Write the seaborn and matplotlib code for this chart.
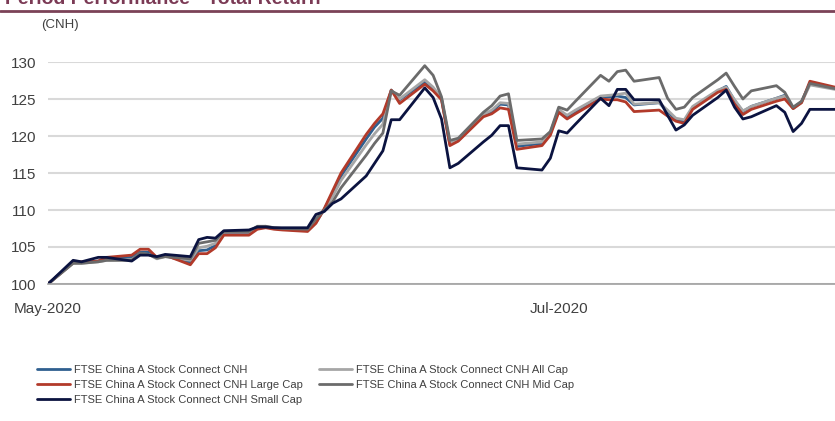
import pandas as pd
import matplotlib.pyplot as plt
import matplotlib.dates as mdates
from matplotlib import font_manager
from matplotlib.lines import Line2D
import seaborn as sns

# business days shown on the chart, 1 May 2020 to 3 Aug 2020
dates = pd.bdate_range("2020-05-01", "2020-08-03")

connect = [
    100.0, 102.9, 102.9, 103.0, 103.1, 103.4, 103.6, 104.3, 104.3, 103.5, 103.8,
    102.9, 104.5, 104.6, 105.2, 106.8, 106.8, 107.5, 107.7, 107.5, 107.4,
    107.2, 108.3, 110.1, 112.3, 114.6, 119.6, 121.2, 122.4, 126.2, 124.9,
    127.3, 126.3, 125.0, 118.9, 119.4, 122.8, 123.3, 124.3, 124.2, 118.6, 119.0, 120.4,
    123.5, 122.6, 123.3, 125.2, 125.3, 125.4, 125.2, 124.2, 124.5, 123.3, 122.2, 122.0, 123.8,
    126.1, 126.7, 124.8, 123.3, 124.0, 125.1, 125.5, 123.8, 124.6, 127.1,
    126.4,
]
all_cap = [
    100.0, 102.8, 102.8, 102.9, 103.0, 103.2, 103.3, 104.1, 104.0, 103.4, 103.7,
    103.2, 104.9, 105.1, 105.5, 107.0, 107.0, 107.7, 107.8, 107.6, 107.5,
    107.3, 108.5, 110.0, 111.8, 114.0, 118.8, 120.3, 121.6, 126.2, 125.0,
    127.6, 126.6, 125.1, 119.0, 119.5, 122.9, 123.5, 124.5, 124.4, 118.9, 119.2, 120.5,
    123.6, 122.8, 123.5, 125.4, 125.5, 125.6, 125.8, 124.3, 124.5, 123.5, 122.4, 122.2, 124.0,
    126.2, 126.6, 124.9, 123.4, 124.0, 125.1, 125.4, 123.7, 124.5, 126.9,
    126.3,
]
large_cap = [
    100.0, 102.9, 103.0, 103.0, 103.1, 103.6, 103.9, 104.7, 104.7, 103.6, 103.9,
    102.6, 104.1, 104.1, 104.9, 106.6, 106.6, 107.4, 107.6, 107.4, 107.3,
    107.1, 108.2, 110.2, 112.6, 115.0, 120.2, 121.7, 123.0, 126.2, 124.4,
    127.0, 126.1, 124.9, 118.7, 119.3, 122.6, 123.0, 123.8, 123.6, 118.2, 118.7, 120.1,
    123.2, 122.3, 123.0, 125.0, 124.9, 124.9, 124.6, 123.3, 123.5, 122.7, 122.0, 121.7, 123.6,
    125.9, 126.3, 124.3, 122.9, 123.6, 124.7, 125.0, 123.7, 124.5, 127.4,
    126.6,
]
mid_cap = [
    100.0, 102.8, 102.8, 102.9, 103.0, 103.2, 103.2, 104.2, 104.0, 103.5, 103.7,
    103.4, 105.5, 105.7, 105.9, 107.1, 107.1, 107.8, 107.8, 107.6, 107.5,
    107.4, 108.8, 110.0, 111.1, 113.0, 117.4, 119.0, 120.4, 126.1, 125.5,
    129.5, 128.2, 125.3, 119.4, 119.7, 123.2, 124.1, 125.4, 125.7, 119.4, 119.6, 120.6,
    123.9, 123.5, 124.7, 128.2, 127.4, 128.7, 128.9, 127.4, 127.9, 125.1, 123.6, 123.9, 125.2,
    127.6, 128.5, 126.7, 125.0, 126.1, 126.8, 125.9, 123.9, 124.7, 127.1,
    126.4,
]
small_cap = [
    100.0, 103.2, 103.0, 103.3, 103.6, 103.6, 103.1, 103.9, 103.9, 103.7, 104.0,
    103.7, 106.0, 106.3, 106.2, 107.2, 107.3, 107.7, 107.7, 107.6, 107.6,
    107.6, 109.4, 109.8, 110.9, 111.5, 114.6, 116.3, 118.0, 122.2, 122.2,
    126.5, 125.2, 122.3, 115.7, 116.3, 119.2, 120.1, 121.4, 121.4, 115.7, 115.4, 117.0,
    120.7, 120.4, 121.6, 125.1, 124.1, 126.3, 126.3, 124.9, 124.9, 122.8, 120.8, 121.5, 122.8,
    125.2, 126.2, 123.9, 122.3, 122.6, 124.1, 123.2, 120.6, 121.7, 123.6,
    123.6,
]

names = [
    "FTSE China A Stock Connect CNH",
    "FTSE China A Stock Connect CNH All Cap",
    "FTSE China A Stock Connect CNH Large Cap",
    "FTSE China A Stock Connect CNH Mid Cap",
    "FTSE China A Stock Connect CNH Small Cap",
]
colors = ["#2F5F8F", "#A6A6A6", "#B23A2A", "#6B6B6B", "#0B1340"]

df = pd.DataFrame({"date": dates, names[0]: connect, names[1]: all_cap,
                   names[2]: large_cap, names[3]: mid_cap, names[4]: small_cap})
long_df = df.melt(id_vars="date", var_name="series", value_name="value")

sns.set_style("white")
plt.rcParams["font.family"] = ["Liberation Sans", "DejaVu Sans"]
available = {f.name for f in font_manager.fontManager.ttflist}
legend_family = "Liberation Sans Narrow" if "Liberation Sans Narrow" in available else "Liberation Sans"

fig = plt.figure(figsize=(8.35, 4.21), dpi=100)
ax = fig.add_axes([48 / 835, 1 - 284 / 421, 1 - 48 / 835, 222 / 421])

sns.lineplot(data=long_df, x="date", y="value", hue="series", hue_order=names,
             palette=colors, linewidth=2, ax=ax, legend=False)

ax.set_xlim(pd.Timestamp("2020-05-01"), pd.Timestamp("2020-08-03"))
ax.set_ylim(100, 130)
ax.set_yticks([100, 105, 110, 115, 120, 125, 130])
ax.xaxis.set_major_locator(mdates.MonthLocator(bymonth=[5, 7]))
ax.xaxis.set_major_formatter(mdates.DateFormatter("%b-%Y"))
ax.set_xlabel("")
ax.set_ylabel("")
ax.yaxis.grid(True, color="#D9D9D9", linewidth=1.5)
ax.set_axisbelow(True)
for s in ["top", "right", "left"]:
    ax.spines[s].set_visible(False)
ax.spines["bottom"].set_color("#A0A0A0")
ax.spines["bottom"].set_linewidth(1.2)
ax.tick_params(axis="y", length=0, labelsize=11, labelcolor="#404040", pad=8.5)
ax.tick_params(axis="x", length=5, color="#A0A0A0", labelsize=11, labelcolor="#404040", pad=8)

fig.text(60 / 835, 1 - 25 / 421, "(CNH)", fontsize=9.5, color="#404040", ha="center", va="center")

# page header, cut by the top edge as in the source
fig.text(5 / 835, 1 - 4 / 421, "Period Performance - Total Return", fontsize=14,
         fontweight="bold", color="#7B3A55", ha="left", va="baseline")
fig.add_artist(Line2D([0, 1], [1 - 11 / 421, 1 - 11 / 421], color="#7B4257", linewidth=2))

handles = [Line2D([], [], color=c, linewidth=2) for c in colors]
leg_font = {"family": legend_family, "size": 8}
left_idx = [0, 2, 4]
right_idx = [1, 3]
leg_kw = dict(loc="upper left", frameon=False, prop=leg_font, handlelength=3,
              handletextpad=0.3, labelspacing=0.45, borderpad=0, borderaxespad=0,
              labelcolor="#404040")
fig.legend([handles[i] for i in left_idx], [names[i] for i in left_idx],
           bbox_to_anchor=(37 / 835, 1 - 365 / 421), **leg_kw)
fig.legend([handles[i] for i in right_idx], [names[i] for i in right_idx],
           bbox_to_anchor=(319 / 835, 1 - 365 / 421), **leg_kw)

fig.savefig("out.png", dpi=100)
